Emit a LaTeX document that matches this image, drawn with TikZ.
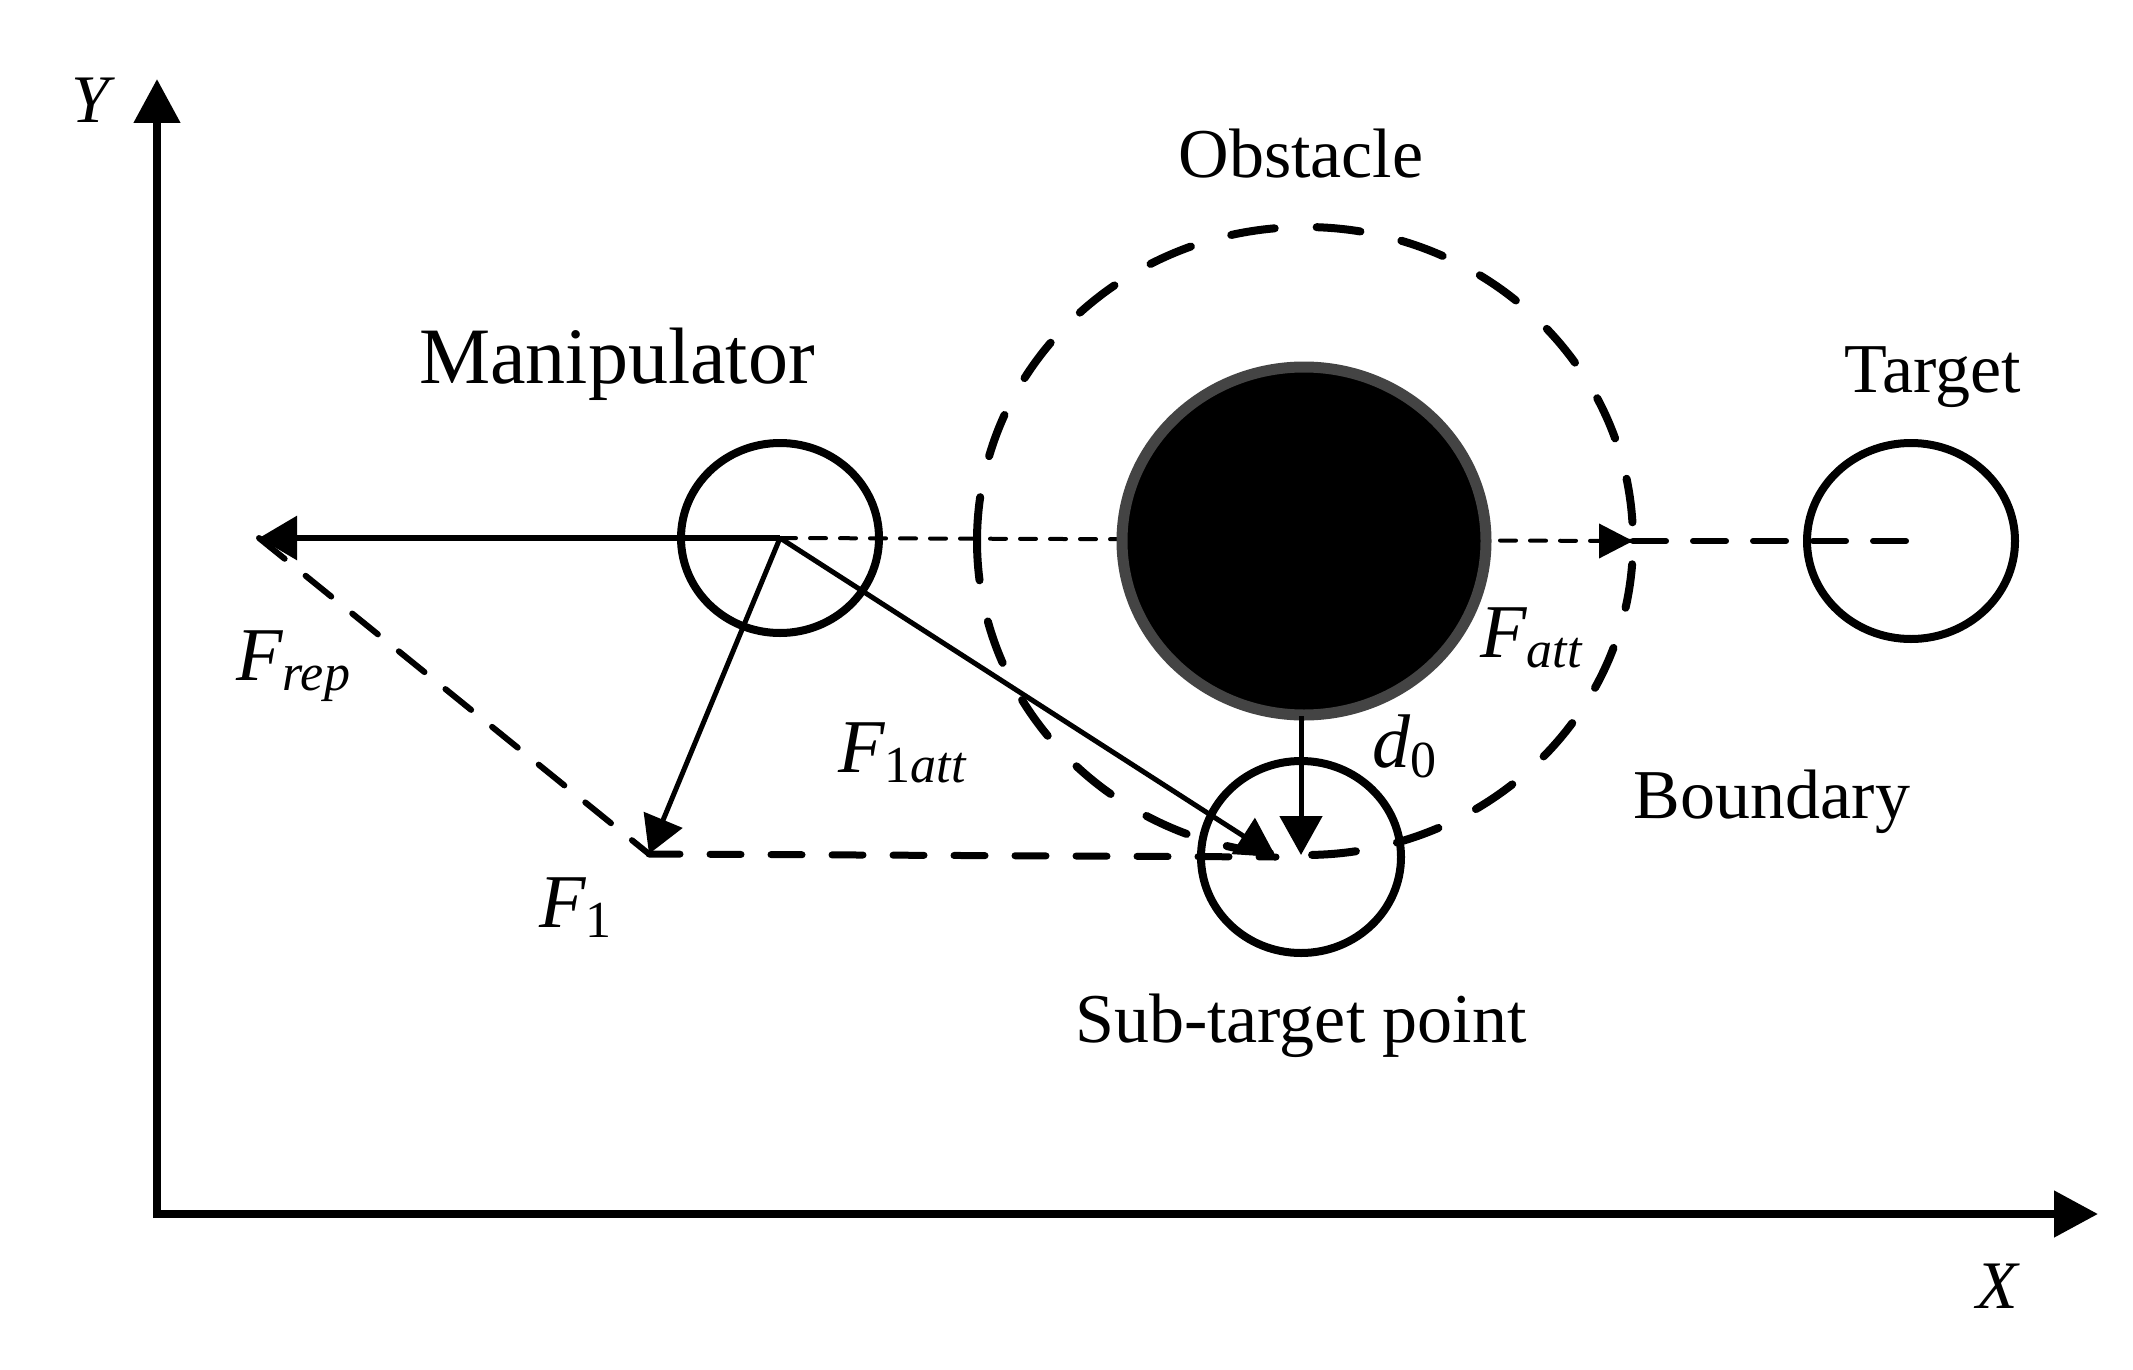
\documentclass[tikz,border=0pt]{standalone}
\usepackage{fontspec}
\setmainfont{Liberation Serif}
\usetikzlibrary{arrows.meta}
\definecolor{ringgray}{HTML}{444444}
\newcommand\Fsub[2]{{\fontsize{76}{80}\selectfont\itshape #1}\raisebox{-10pt}{\fontsize{52}{56}\selectfont #2}}
\begin{document}
\begin{tikzpicture}[x=1pt,y=-1pt,
  axisline/.style={line width=8pt,-{Triangle[length=44pt,width=45pt]}},
  ring/.style={line width=8pt},
  bnd/.style={line width=8pt,line cap=round,dash pattern=on 44pt off 42pt},
  thindash/.style={line width=4pt,line cap=round,dash pattern=on 16pt off 14pt},
  thickdash/.style={line width=6pt,line cap=round,dash pattern=on 33pt off 27pt},
  sidedash/.style={line width=6pt,line cap=round,dash pattern=on 33pt off 27pt},
  basedash/.style={line width=7pt,line cap=round,dash pattern=on 31pt off 30pt},
  forcebig/.style={line width=6pt,-{Triangle[length=38pt,width=43pt]}},
  forcemid/.style={line width=5pt,-{Triangle[length=37pt,width=41pt]}},
  forcearr/.style={line width=5pt,-{Triangle[length=39pt,width=42pt]}},
  lbl/.style={font=\fontsize{70}{80}\selectfont,inner sep=0pt},
  mlbl/.style={inner sep=0pt,anchor=base west}]
\useasboundingbox (0,0) rectangle (2133,1370);
% key points
\coordinate (origin) at (157,1214);
\coordinate (ytip) at (157,79);
\coordinate (xtip) at (2098,1214);
\coordinate (M) at (780,538);
\coordinate (O) at (1304,541);
\coordinate (S) at (1301,857);
\coordinate (T) at (1911,541);
\coordinate (reptip) at (259,538);
\coordinate (f1tip) at (649,854);
\coordinate (atttip) at (1633,541);
\coordinate (tgtend) at (1907,541);
\coordinate (obsbot) at (1301,716);
\coordinate (subtip) at (1301,855);
\coordinate (s1tip) at (1276,857);
\coordinate (bleft) at (977,541);
% axes
\draw[axisline] (157,1218) -- (ytip);
\draw[axisline] (153,1214) -- (xtip);
% thin dashed line toward the target
\draw[thindash] (M) -- (atttip);
% obstacle
\draw[line width=11pt,draw=ringgray,fill=black] (O) ellipse [x radius=182pt,y radius=174pt];
% Fatt arrow head and thick dashed continuation
\draw[line width=4pt,-{Triangle[length=34pt,width=34pt]}] (1590,541) -- (atttip);
\draw[thickdash] (atttip) -- (tgtend);
% boundary
\draw[bnd] (bleft) arc[start angle=180,end angle=-180,x radius=328pt,y radius=314pt];
% robots
\draw[ring] (M) ellipse [x radius=99pt,y radius=95pt];
\draw[ring] (T) ellipse [x radius=104pt,y radius=98pt];
\draw[ring] (S) ellipse [x radius=100pt,y radius=96pt];
% forces
\draw[sidedash] (reptip) -- (f1tip);
\draw[basedash] (f1tip) -- (s1tip);
\draw[forcebig] (M) -- (reptip);
\draw[forcemid] (M) -- (f1tip);
\draw[forcearr] (M) -- (s1tip);
\draw[forcearr] (obsbot) -- (subtip);
% labels
\node[lbl,anchor=base] (lobs) at (1301,177) {Obstacle};
\node[lbl,anchor=base,font=\fontsize{80}{88}\selectfont] (lman) at (617,383) {Manipulator};
\node[lbl,anchor=base] (ltgt) at (1933,392) {Target};
\node[lbl,anchor=base] (lsub) at (1301,1042) {Sub-target point};
\node[lbl,anchor=base] (lbnd) at (1772,818) {Boundary};
\node[lbl,anchor=base,font=\fontsize{68}{76}\selectfont\itshape] (ly) at (90,123) {Y};
\node[lbl,anchor=base,font=\fontsize{68}{76}\selectfont\itshape] (lx) at (1997,1308) {X};
\node[mlbl] (lrep) at (236,680) {\Fsub{F}{\textit{rep}}};
\node[mlbl] (l1att) at (838,772) {\Fsub{F}{1\textit{att}}};
\node[mlbl] (l1) at (539,927) {\Fsub{F}{1}};
\node[mlbl] (latt) at (1480,657) {\Fsub{F}{\textit{att}}};
\node[mlbl] (ld0) at (1372,767) {\Fsub{d}{0}};
\end{tikzpicture}
\end{document}
